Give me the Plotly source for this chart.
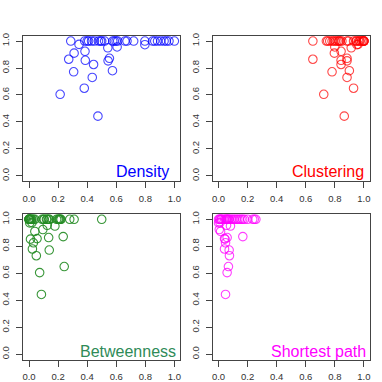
import plotly.graph_objects as go

# y values shared by all four panels (one per node)
y_vals = [0.443, 0.605, 0.65, 0.73, 0.772, 0.78, 0.826, 0.853, 0.857, 0.865, 0.872,
          0.91, 0.924, 0.95, 0.956, 0.973, 0.975,
          1.0, 1.0, 1.0, 1.0, 1.0, 1.0, 1.0, 1.0, 1.0, 1.0, 1.0, 1.0, 1.0,
          1.0, 1.0, 1.0, 1.0, 1.0, 1.0, 1.0, 1.0, 1.0, 1.0, 1.0, 1.0, 1.0]

density = [0.474, 0.214, 0.38, 0.435, 0.307, 0.574, 0.444, 0.544, 0.387, 0.273, 0.553,
           0.31, 0.385, 0.542, 0.606, 0.797, 0.344,
           0.287, 0.383, 0.40, 0.41, 0.43, 0.45, 0.478, 0.492, 0.50, 0.52, 0.576, 0.587, 0.599,
           0.61, 0.66, 0.674, 0.72, 0.797, 0.85, 0.865, 0.884, 0.906, 0.929, 0.945, 0.963, 1.0]

clustering = [0.865, 0.724, 0.929, 0.884, 0.781, 0.9, 0.843, 0.884, 0.843, 0.649, 0.884,
              0.797, 0.843, 0.913, 0.8, 0.952, 0.96,
              0.649, 0.742, 0.751, 0.765, 0.781, 0.792, 0.804, 0.815, 0.826, 0.838, 0.849, 0.884, 0.895,
              0.929, 0.945, 0.963, 0.975, 0.986, 0.993, 1.0, 1.0, 1.0, 1.0, 0.97, 0.95, 0.83]

betweenness = [0.085, 0.073, 0.242, 0.05, 0.139, 0.023, 0.03, 0.01, 0.055, 0.135, 0.235,
               0.04, 0.095, 0.178, 0.125, 0.005, 0.02,
               0.0, 0.0, 0.0, 0.005, 0.01, 0.015, 0.02, 0.04, 0.09, 0.1, 0.12, 0.125, 0.14,
               0.19, 0.2, 0.205, 0.21, 0.22, 0.28, 0.31, 0.5, 0.0, 0.03, 0.105, 0.135, 0.215]

shortest_path = [0.048, 0.059, 0.068, 0.075, 0.073, 0.041, 0.048, 0.045, 0.041, 0.059, 0.167,
                 0.014, 0.005, 0.082, 0.055, 0.0, 0.01,
                 0.0, 0.007, 0.018, 0.03, 0.041, 0.053, 0.064, 0.075, 0.087, 0.098, 0.109, 0.121, 0.132,
                 0.143, 0.155, 0.166, 0.178, 0.2, 0.235, 0.246, 0.257, 0.01, 0.02, 0.05, 0.06, 0.07]

panel_names = ["Density", "Clustering", "Betweenness", "Shortest path"]
tick_vals = [0.0, 0.2, 0.4, 0.6, 0.8, 1.0]
tick_text = ["0.0", "0.2", "0.4", "0.6", "0.8", "1.0"]

series = [density, clustering, betweenness, shortest_path]
point_colors = ["rgba(0,0,255,0.72)", "rgba(255,0,0,0.72)", "rgba(34,139,34,0.9)", "rgba(255,0,255,0.75)"]
label_colors = ["#0000FF", "#FF0000", "#2E8B57", "#FF00FF"]

W = 382.0
x_domains = [[21.4 / W, 179.6 / W], [212.4 / W, 370.6 / W]]
y_domains = [[1 - 179.7 / W, 1 - 32.9 / W], [1 - 359.4 / W, 1 - 212.6 / W]]
label_pos = [(0.98, 0.032), (1.016, 0.032), (1.027, 0.02), (1.027, 0.02)]

font_family = "Liberation Sans, Arial, sans-serif"
fig = go.Figure()
layout = dict(width=382, height=382, margin=dict(l=0, r=0, t=0, b=0),
              paper_bgcolor="white", plot_bgcolor="white", showlegend=False,
              font=dict(family=font_family, color="#333"))
annotations = []
for i in range(4):
    row, col = divmod(i, 2)
    xa = "x" if i == 0 else f"x{i+1}"
    ya = "y" if i == 0 else f"y{i+1}"
    fig.add_trace(go.Scatter(
        x=series[i], y=y_vals, mode="markers", xaxis=xa, yaxis=ya,
        marker=dict(symbol="circle-open", size=8.5, color=point_colors[i],
                    line=dict(width=1.1, color=point_colors[i])),
        cliponaxis=False, hoverinfo="skip"))
    axis_common = dict(range=[-0.04, 1.04], showgrid=False, zeroline=False,
                       showline=True, mirror=True, linecolor="#444", linewidth=1,
                       ticks="outside", ticklen=6, tickcolor="#444", tickwidth=1,
                       tickvals=tick_vals, ticktext=tick_text,
                       tickfont=dict(size=9.5, color="#333", family=font_family))
    layout["xaxis" if i == 0 else f"xaxis{i+1}"] = dict(
        axis_common, domain=x_domains[col], anchor=ya, ticklabelstandoff=2)
    layout["yaxis" if i == 0 else f"yaxis{i+1}"] = dict(
        axis_common, domain=y_domains[row], anchor=xa, tickangle=-90, ticklabelstandoff=3)
    lx, ly = label_pos[i]
    annotations.append(dict(
        x=lx, y=ly, xref=xa, yref=ya, text=panel_names[i], showarrow=False,
        xanchor="right", yanchor="middle",
        font=dict(size=16, color=label_colors[i], family=font_family)))
layout["annotations"] = annotations
fig.update_layout(**layout)
fig.write_html("out.html", config={"displayModeBar": False},
               post_script="document.body.style.margin='0';document.body.style.overflow='hidden';")
